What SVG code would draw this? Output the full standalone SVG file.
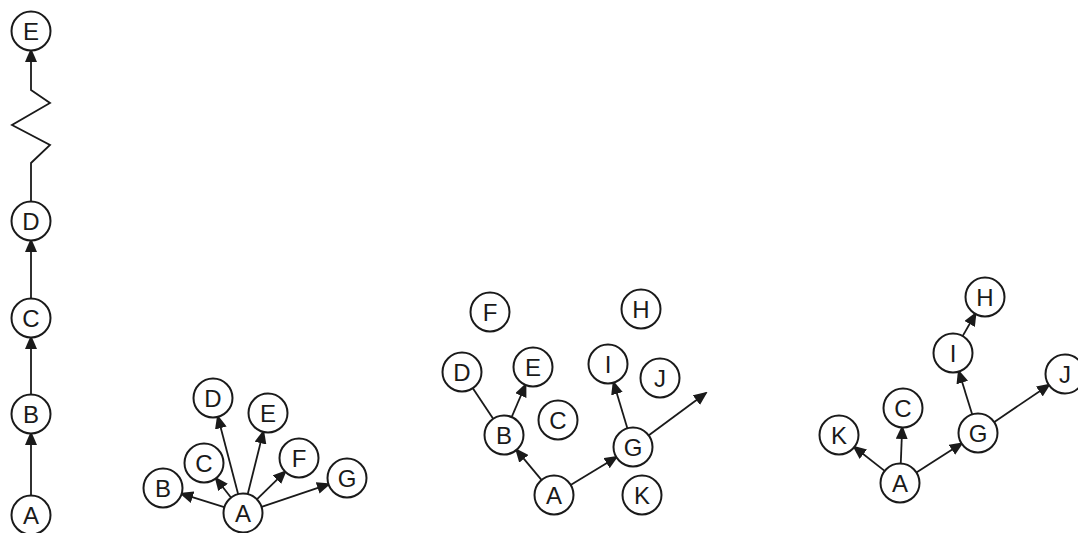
<svg xmlns="http://www.w3.org/2000/svg" width="1078" height="533" viewBox="0 0 1078 533">
<defs>
<style>
.n circle{fill:#fff;stroke:#1a1a1a;stroke-width:2}
.n text{font-family:"Liberation Sans",Arial,sans-serif;font-size:24px;fill:#1a1a1a;text-anchor:middle}
.e line,.e polyline{stroke:#1a1a1a;stroke-width:1.8;fill:none}
.a{marker-end:url(#ah)}
</style>
<marker id="ah" markerUnits="userSpaceOnUse" markerWidth="14" markerHeight="12" viewBox="0 0 14 12" refX="12" refY="6" orient="auto">
<path d="M0,0 L14,6 L0,12 Z" fill="#1a1a1a"/>
</marker>
</defs>
<rect width="1078" height="533" fill="#fff"/>
<g id="connectors" class="e">
<line class="a" x1="31" y1="497" x2="31" y2="433"/>
<line class="a" x1="31" y1="396" x2="31" y2="337"/>
<line class="a" x1="31" y1="300" x2="31" y2="240"/>
<polyline class="a" points="31,204 31,163 50,145 12,125 50,103 31,90 31,50"/>
<line class="a" x1="225.8" y1="507.6" x2="181.1" y2="493.7"/>
<line class="a" x1="231.9" y1="498.8" x2="215.7" y2="478"/>
<line class="a" x1="238.5" y1="495.6" x2="217.8" y2="416.4"/>
<line class="a" x1="247.4" y1="495.5" x2="263.4" y2="431.4"/>
<line class="a" x1="255.8" y1="500.4" x2="285.5" y2="471.3"/>
<line class="a" x1="260.1" y1="507.3" x2="329" y2="484.1"/>
<line class="a" x1="542.5" y1="481.2" x2="516.2" y2="449.6"/>
<line class="a" x1="569.4" y1="485.7" x2="616.8" y2="456.9"/>
<line class="a" x1="511.1" y1="418.4" x2="525.6" y2="384.5"/>
<line x1="472" y1="387" x2="494" y2="420"/>
<line class="a" x1="627.8" y1="429.8" x2="613.5" y2="382.2"/>
<line class="a" x1="647.5" y1="436.3" x2="706" y2="393"/>
<line class="a" x1="885.9" y1="471.9" x2="853.9" y2="446.8"/>
<line class="a" x1="900.7" y1="465" x2="902.2" y2="427"/>
<line class="a" x1="915.2" y1="473.3" x2="962" y2="443.3"/>
<line class="a" x1="972.6" y1="415.8" x2="958.7" y2="371.1"/>
<line class="a" x1="961.9" y1="337.4" x2="975.6" y2="313.5"/>
<line class="a" x1="992.9" y1="422.9" x2="1049.3" y2="384.7"/>
</g>
<g id="p1A" class="n"><circle cx="31" cy="515" r="19.5"/><text x="31" y="523.5">A</text></g>
<g id="p1B" class="n"><circle cx="31" cy="414" r="19.5"/><text x="31" y="422.5">B</text></g>
<g id="p1C" class="n"><circle cx="31" cy="318" r="19.5"/><text x="31" y="326.5">C</text></g>
<g id="p1D" class="n"><circle cx="31" cy="221" r="19.5"/><text x="31" y="229.5">D</text></g>
<g id="p1E" class="n"><circle cx="31" cy="31" r="19.5"/><text x="31" y="39.5">E</text></g>
<g id="p2A" class="n"><circle cx="243" cy="513" r="19.5"/><text x="243" y="521.5">A</text></g>
<g id="p2B" class="n"><circle cx="163" cy="488" r="19.5"/><text x="163" y="496.5">B</text></g>
<g id="p2C" class="n"><circle cx="204" cy="463" r="19.5"/><text x="204" y="471.5">C</text></g>
<g id="p2D" class="n"><circle cx="213" cy="398" r="19.5"/><text x="213" y="406.5">D</text></g>
<g id="p2E" class="n"><circle cx="268" cy="413" r="19.5"/><text x="268" y="421.5">E</text></g>
<g id="p2F" class="n"><circle cx="299" cy="458" r="19.5"/><text x="299" y="466.5">F</text></g>
<g id="p2G" class="n"><circle cx="347" cy="478" r="19.5"/><text x="347" y="486.5">G</text></g>
<g id="p3A" class="n"><circle cx="554" cy="495" r="19.5"/><text x="554" y="503.5">A</text></g>
<g id="p3B" class="n"><circle cx="504" cy="435" r="19.5"/><text x="504" y="443.5">B</text></g>
<g id="p3C" class="n"><circle cx="558" cy="420" r="19.5"/><text x="558" y="428.5">C</text></g>
<g id="p3D" class="n"><circle cx="462" cy="372" r="19.5"/><text x="462" y="380.5">D</text></g>
<g id="p3E" class="n"><circle cx="533" cy="367" r="19.5"/><text x="533" y="375.5">E</text></g>
<g id="p3F" class="n"><circle cx="490" cy="312" r="19.5"/><text x="490" y="320.5">F</text></g>
<g id="p3G" class="n"><circle cx="633" cy="447" r="19.5"/><text x="633" y="455.5">G</text></g>
<g id="p3H" class="n"><circle cx="641" cy="309" r="19.5"/><text x="641" y="317.5">H</text></g>
<g id="p3I" class="n"><circle cx="608" cy="364" r="19.5"/><text x="608" y="372.5">I</text></g>
<g id="p3J" class="n"><circle cx="660" cy="378" r="19.5"/><text x="660" y="386.5">J</text></g>
<g id="p3K" class="n"><circle cx="642" cy="495" r="19.5"/><text x="642" y="503.5">K</text></g>
<g id="p4A" class="n"><circle cx="900" cy="483" r="19.5"/><text x="900" y="491.5">A</text></g>
<g id="p4C" class="n"><circle cx="903" cy="408" r="19.5"/><text x="903" y="416.5">C</text></g>
<g id="p4K" class="n"><circle cx="839" cy="435" r="19.5"/><text x="839" y="443.5">K</text></g>
<g id="p4G" class="n"><circle cx="978" cy="433" r="19.5"/><text x="978" y="441.5">G</text></g>
<g id="p4I" class="n"><circle cx="953" cy="353" r="19.5"/><text x="953" y="361.5">I</text></g>
<g id="p4H" class="n"><circle cx="985" cy="297" r="19.5"/><text x="985" y="305.5">H</text></g>
<g id="p4J" class="n"><circle cx="1065" cy="374" r="19.5"/><text x="1065" y="382.5">J</text></g>
</svg>
